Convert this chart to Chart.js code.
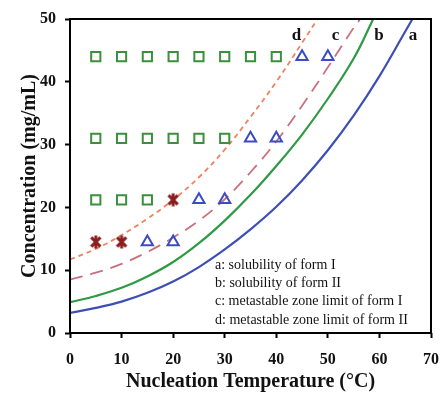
<!DOCTYPE html>
<html>
<head>
<meta charset="utf-8">
<script src="https://cdn.jsdelivr.net/npm/chart.js@4.4.0/dist/chart.umd.min.js"></script>
<style>
  html, body { margin: 0; padding: 0; background: #fff; }
  #wrap { width: 443px; height: 394px; }
</style>
</head>
<body>
<div id="wrap"><canvas id="chart"></canvas></div>
<script>
/* ── curve data: temperature (°C) vs concentration (mg/mL) ── */
const tempA = [0, 5, 10, 15, 20, 25, 30, 35, 40, 45, 50, 55, 60, 65, 66.4];
const concA = [3.2, 4.0, 5.0, 6.4, 8.2, 10.5, 13.3, 16.5, 20.1, 24.3, 29.1, 34.6, 40.9, 48.0, 50];

const tempB = [0, 5, 10, 15, 20, 25, 30, 35, 40, 45, 50, 55, 58.8];
const concB = [4.9, 5.9, 7.2, 9.0, 11.3, 14.3, 17.9, 22.0, 26.6, 31.6, 37.3, 43.7, 50];

const tempC = [0, 5, 10, 15, 20, 25, 30, 35, 40, 45, 50, 55, 56.3];
const concC = [8.5, 9.6, 11.0, 12.9, 15.2, 17.9, 21.3, 25.6, 30.5, 36.2, 42.3, 48.6, 50];

const tempD = [0, 5, 10, 15, 20, 25, 30, 35, 40, 45, 48];
const concD = [11.7, 13.4, 15.6, 18.2, 21.2, 24.8, 29.2, 34.4, 40.0, 46.2, 50];

/* ── experiment markers ── */
const squareT = [5, 10, 15, 20, 25, 30, 35, 40, 5, 10, 15, 20, 25, 30, 5, 10, 15];
const squareC = [44, 44, 44, 44, 44, 44, 44, 44, 31, 31, 31, 31, 31, 31, 21.2, 21.2, 21.2];

const triT = [45, 50, 35, 40, 25, 30, 15, 20];
const triC = [44, 44, 31, 31, 21.2, 21.2, 14.5, 14.5];

const starT = [5, 10, 20];
const starC = [14.5, 14.5, 21.2];

/* ── axis ticks / texts ── */
const xTicks = [0, 10, 20, 30, 40, 50, 60, 70];
const yTicks = [0, 10, 20, 30, 40, 50];
const curveTags = ['d', 'c', 'b', 'a'];
const tagT = [43.9, 51.5, 59.9, 66.5];
const tagC = [47.3, 47.3, 47.3, 47.3];
const noteLines = [
  'a: solubility of form I',
  'b: solubility of form II',
  'c: metastable zone limit of form I',
  'd: metastable zone limit of form II',
];

const pts = (xs, ys) => xs.map((x, i) => ({ x, y: ys[i] }));

const SERIF = '"Liberation Serif", "Times New Roman", serif';

// six-spoke asterisk marker (X plus a vertical stroke)
function asteriskMarker(size, color) {
  const cv = document.createElement('canvas');
  cv.width = size; cv.height = size;
  const g = cv.getContext('2d');
  const m = size / 2, r = size / 2 - 1.5;
  g.strokeStyle = color; g.lineWidth = 3; g.lineCap = 'butt';
  [Math.PI / 2, Math.PI / 4, -Math.PI / 4].forEach(a => {
    g.beginPath();
    g.moveTo(m - Math.cos(a) * r, m - Math.sin(a) * r);
    g.lineTo(m + Math.cos(a) * r, m + Math.sin(a) * r);
    g.stroke();
  });
  return cv;
}

// box around the plot + curve tags + note block
const decorPlugin = {
  id: 'decor',
  afterDraw(chart) {
    const { ctx, chartArea: a, scales: { x, y } } = chart;
    ctx.save();
    ctx.strokeStyle = '#000';
    ctx.lineWidth = 2;
    ctx.strokeRect(a.left, a.top, a.right - a.left, a.bottom - a.top);

    ctx.fillStyle = '#111';
    ctx.font = 'bold 17px ' + SERIF;
    ctx.textAlign = 'center';
    ctx.textBaseline = 'middle';
    curveTags.forEach((t, i) => {
      ctx.fillText(t, x.getPixelForValue(tagT[i]), y.getPixelForValue(tagC[i]));
    });

    ctx.font = '14px ' + SERIF;
    ctx.textAlign = 'left';
    noteLines.forEach((t, i) => ctx.fillText(t, 215, 265 + i * 18.3));
    ctx.restore();
  }
};

const curve = (data, color, dash, width) => ({
  type: 'line', data, borderColor: color, borderWidth: width,
  borderDash: dash, pointRadius: 0, fill: false, tension: 0.4, showLine: true,
});

new Chart(document.getElementById('chart'), {
  type: 'scatter',
  data: {
    datasets: [
      { label: 'stars', data: pts(starT, starC), pointStyle: asteriskMarker(16, '#8b1e1e'),
        pointRadius: 8, borderColor: '#8b1e1e', backgroundColor: 'transparent' },
      { label: 'triangles', data: pts(triT, triC), pointStyle: 'triangle', pointRadius: 6.5,
        borderColor: '#3a4cc0', backgroundColor: 'transparent', borderWidth: 2 },
      { label: 'squares', data: pts(squareT, squareC), pointStyle: 'rect', pointRadius: 6.5,
        borderColor: '#3c8f3c', backgroundColor: 'transparent', borderWidth: 2 },
      curve(pts(tempD, concD), '#f0825e', [5, 4], 1.8),
      curve(pts(tempC, concC), '#c8707e', [13, 8], 1.8),
      curve(pts(tempB, concB), '#2e9a44', [], 2.2),
      curve(pts(tempA, concA), '#3e4fb4', [], 2.2),
    ]
  },
  options: {
    responsive: true,
    maintainAspectRatio: false,
    animation: false,
    layout: { padding: { top: 19, right: 12, left: 0, bottom: 0 } },
    plugins: { legend: { display: false }, tooltip: { enabled: false } },
    scales: {
      x: {
        type: 'linear', min: 0, max: 70,
        afterBuildTicks: s => { s.ticks = xTicks.map(v => ({ value: v })); },
        afterFit: s => { s.height = 61; s.paddingRight = 0; s.paddingLeft = 0; },
        grid: { drawOnChartArea: false, drawTicks: true, tickLength: 5, tickColor: '#000', tickWidth: 2 },
        border: { display: false },
        ticks: { color: '#111', padding: 12, font: { family: SERIF, size: 16, weight: 'bold' } },
        title: { display: true, text: 'Nucleation Temperature (°C)', color: '#111',
                 padding: { top: 0, bottom: 0 }, font: { family: SERIF, size: 20, weight: 'bold' } },
      },
      y: {
        type: 'linear', min: 0, max: 50,
        afterBuildTicks: s => { s.ticks = yTicks.map(v => ({ value: v })); },
        afterFit: s => { s.width = 70; },
        grid: { drawOnChartArea: false, drawTicks: true, tickLength: 5, tickColor: '#000', tickWidth: 2 },
        border: { display: false },
        ticks: { color: '#111', padding: 9, font: { family: SERIF, size: 16, weight: 'bold' } },
        title: { display: true, text: 'Concentration (mg/mL)', color: '#111',
                 padding: { top: 18, bottom: 0 }, font: { family: SERIF, size: 20, weight: 'bold' } },
      },
    }
  },
  plugins: [decorPlugin]
});
</script>
</body>
</html>
